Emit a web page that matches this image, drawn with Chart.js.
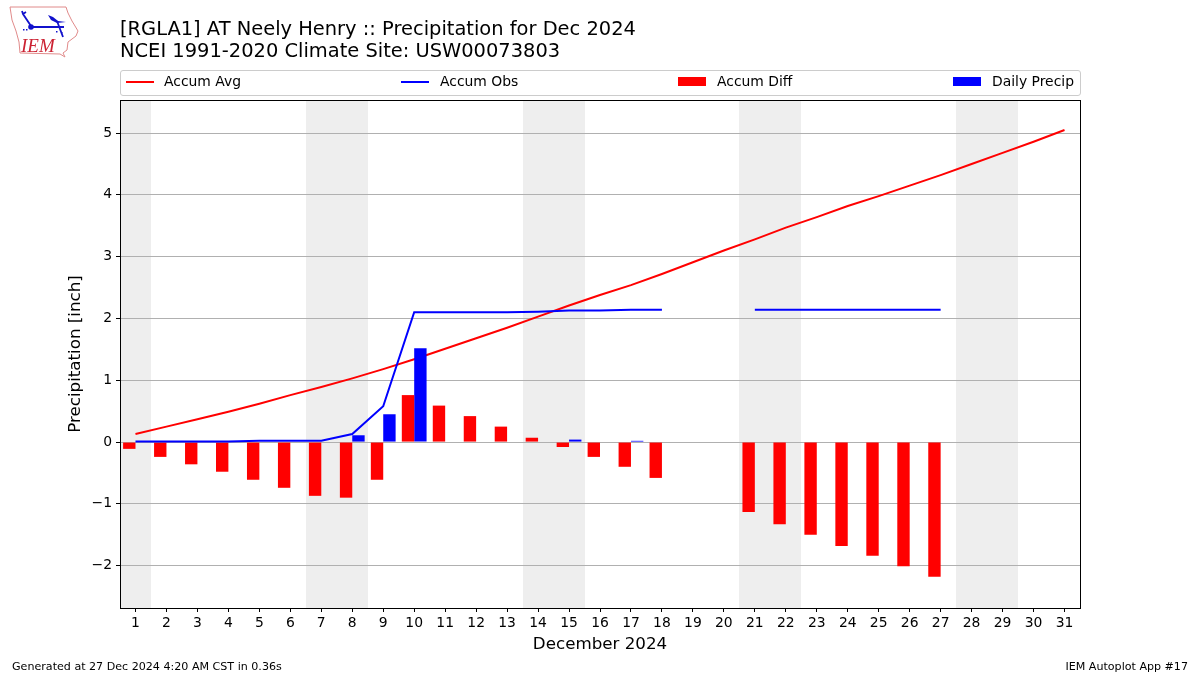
<!DOCTYPE html>
<html>
<head>
<meta charset="utf-8">
<title>Precipitation for Dec 2024</title>
<script src="https://cdn.jsdelivr.net/npm/chart.js@4/dist/chart.umd.min.js"></script>
<style>
  html, body { margin: 0; padding: 0; background: #fff; }
  body { width: 1200px; height: 675px; position: relative; overflow: hidden; font-family: "DejaVu Sans", sans-serif; color: #000; }
  #chart { position: absolute; left: 0; top: 0; }
  #logo { position: absolute; left: 0; top: 0; }
  .title { position: absolute; left: 120px; font-size: 19.46px; line-height: 22px; white-space: nowrap; }
  .foot { position: absolute; top: 660px; font-size: 11.1px; line-height: 13px; white-space: nowrap; }
  #legend { position: absolute; left: 120px; top: 70px; width: 959px; height: 24px; border: 1px solid #ccc; border-radius: 3px; background: #fff; }
  .item { position: absolute; top: 0; height: 24px; line-height: 21px; font-size: 13.9px; white-space: nowrap; }
  .item i { position: absolute; left: 0; display: block; width: 28px; }
  .item span { position: absolute; left: 39px; }
</style>
</head>
<body>
<canvas id="chart" width="1200" height="675"></canvas>

<svg id="logo" width="84" height="60" viewBox="0 0 84 60">
  <path d="M10 7 L66 7 L68 13 L72 21 L78 31 L76 36 L68 42 L67 50 L63 53 L65 57 L60 54 L20 53 L19 42 L16 31 L12 20 Z" fill="#fff" stroke="#e08a8a" stroke-width="1"/>
  <path d="M31 27 L64 27 M57 21 L63 37 M31 26 L23 14 L22 11 M23 14 L26 12" fill="none" stroke="#1111cc" stroke-width="1.8"/>
  <path d="M48 15 L53 17 L58 21 L66 22 L57 23 L51 20 Z" fill="#1111cc"/>
  <circle cx="31" cy="27" r="2.8" fill="#1111cc"/>
  <path d="M23 29 h1.5 v1.5 h-1.5 Z M26 29 h1.5 v1.5 h-1.5 Z M56 31 h1.5 v1.5 h-1.5 Z M61 32 h1.5 v1.5 h-1.5 Z" fill="#1111cc"/>
  <text x="21" y="52" font-family="Liberation Serif, serif" font-style="italic" font-size="19" fill="#cc2233">IEM</text>
</svg>

<div class="title" style="top:18px">[RGLA1] AT Neely Henry :: Precipitation for Dec 2024</div>
<div class="title" style="top:40px">NCEI 1991-2020 Climate Site: USW00073803</div>
<div id="legend"></div>
<div class="foot" style="left:12px">Generated at 27 Dec 2024 4:20 AM CST in 0.36s</div>
<div class="foot" style="right:12px">IEM Autoplot App #17</div>

<script>
var days = [1,2,3,4,5,6,7,8,9,10,11,12,13,14,15,16,17,18,19,20,21,22,23,24,25,26,27,28,29,30,31];
var weekendDays = [1,7,8,14,15,21,22,28,29];
var yTicks = [-2,-1,0,1,2,3,4,5];

var accumAvg = [0.13,0.25,0.37,0.49,0.62,0.76,0.89,1.03,1.18,1.34,1.51,1.68,1.85,2.03,2.21,2.38,2.54,2.72,2.91,3.10,3.28,3.47,3.64,3.82,3.98,4.15,4.32,4.50,4.68,4.86,5.05];
var accumObs = [0.01,0.01,0.01,0.01,0.02,0.02,0.02,0.13,0.58,2.10,2.10,2.10,2.10,2.11,2.13,2.13,2.14,2.14,null,null,2.14,2.14,2.14,2.14,2.14,2.14,2.14,null,null,null,null];
var accumDiff = [-0.11,-0.24,-0.36,-0.48,-0.61,-0.74,-0.87,-0.90,-0.61,0.76,0.59,0.42,0.25,0.07,-0.08,-0.24,-0.40,-0.58,null,null,-1.13,-1.33,-1.50,-1.68,-1.84,-2.01,-2.18,null,null,null,null];
var dailyPrecip = [0,0,0,0,0,0,0,0.11,0.45,1.52,0,0,0,0,0.04,0,0.02,0,null,null,0,0,0,0,0,0,0,null,null,null,null];

// weekend bands go under the grid, frame goes on top of everything
var bandsAndFrame = {
  id: 'bandsAndFrame',
  beforeDraw: function(chart) {
    var c = chart.ctx, a = chart.chartArea, x = chart.scales.x;
    var half = (x.getPixelForValue(1) - x.getPixelForValue(0)) / 2;
    c.save();
    c.fillStyle = '#eeeeee';
    weekendDays.forEach(function(d) {
      var px = x.getPixelForValue(days.indexOf(d));
      var l = Math.round(px - half), r = Math.round(px + half);
      c.fillRect(l, a.top, r - l, a.bottom - a.top);
    });
    c.restore();
  },
  afterDraw: function(chart) {
    var c = chart.ctx, a = chart.chartArea;
    c.save();
    c.strokeStyle = '#000';
    c.lineWidth = 1;
    c.strokeRect(Math.round(a.left) + 0.5, Math.round(a.top) + 0.5, Math.round(a.right - a.left), Math.round(a.bottom - a.top));
    c.restore();
  }
};

var FONT = '"DejaVu Sans", sans-serif';
var chart = new Chart(document.getElementById('chart').getContext('2d'), {
  type: 'bar',
  plugins: [bandsAndFrame],
  data: {
    labels: days,
    datasets: [
      { type: 'line', label: 'Accum Avg', data: accumAvg, borderColor: '#ff0000', backgroundColor: '#ff0000', borderWidth: 2, pointRadius: 0, tension: 0, order: 4 },
      { type: 'line', label: 'Accum Obs', data: accumObs, borderColor: '#0000ff', backgroundColor: '#0000ff', borderWidth: 2, pointRadius: 0, tension: 0, spanGaps: false, order: 1 },
      { label: 'Accum Diff', data: accumDiff, backgroundColor: '#ff0000', categoryPercentage: 0.8, barPercentage: 1, order: 2 },
      { label: 'Daily Precip', data: dailyPrecip, backgroundColor: '#0000ff', categoryPercentage: 0.8, barPercentage: 1, order: 3 }
    ]
  },
  options: {
    responsive: false,
    animation: false,
    layout: { padding: { top: 100, left: 0, right: 120, bottom: 0 } },
    plugins: { legend: { display: false }, title: { display: false }, tooltip: { enabled: false } },
    scales: {
      x: {
        type: 'category',
        offset: true,
        afterFit: function(s) { s.height = 67; },
        grid: { offset: false, drawOnChartArea: false, drawTicks: true, tickLength: 4, tickColor: '#000' },
        border: { display: false },
        ticks: { color: '#000', font: { family: FONT, size: 13.9 }, maxRotation: 0, autoSkip: false, padding: 3 },
        title: { display: true, text: 'December 2024', color: '#000', font: { family: FONT, size: 16.7 }, padding: { top: 2, bottom: 20 } }
      },
      y: {
        min: -2.685,
        max: 5.535,
        afterFit: function(s) { s.width = 120; },
        afterBuildTicks: function(s) { s.ticks = yTicks.map(function(v) { return { value: v }; }); },
        grid: { color: '#b0b0b0', lineWidth: 1, tickColor: '#000', tickLength: 4, drawTicks: true },
        border: { display: false },
        ticks: {
          color: '#000', font: { family: FONT, size: 13.9 }, padding: 4,
          callback: function(v) { return String(v).replace('-', '\u2212'); }
        },
        title: { display: true, text: 'Precipitation [inch]', color: '#000', font: { family: FONT, size: 16.7 }, padding: { top: 66, bottom: 4 } }
      }
    }
  }
});

// legend strip, filled from the datasets, spread out like the original
var legendLeft = [5, 280, 557, 832];
chart.data.datasets.forEach(function(ds, i) {
  var item = document.createElement('div');
  item.className = 'item';
  item.style.left = legendLeft[i] + 'px';
  var isLine = ds.type === 'line';
  item.innerHTML = '<i style="background:' + ds.backgroundColor + ';top:' + (isLine ? 10 : 6) + 'px;height:' + (isLine ? 2 : 9) + 'px"></i>' +
    '<span style="left:' + (i === 0 ? 38 : 39) + 'px">' + ds.label + '</span>';
  document.getElementById('legend').appendChild(item);
});
</script>
</body>
</html>
